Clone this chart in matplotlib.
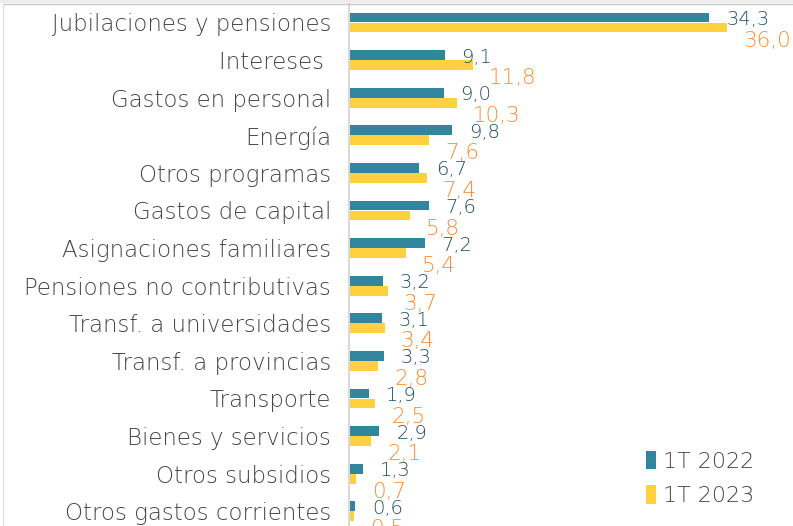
import matplotlib
matplotlib.use("Agg")
import matplotlib.pyplot as plt
from matplotlib.patches import Rectangle
from matplotlib.lines import Line2D
import numpy as np

categories = ["Jubilaciones y pensiones", "Intereses ", "Gastos en personal", "Energía",
              "Otros programas", "Gastos de capital", "Asignaciones familiares",
              "Pensiones no contributivas", "Transf. a universidades", "Transf. a provincias",
              "Transporte", "Bienes y servicios", "Otros subsidios", "Otros gastos corrientes"]
s2022 = [34.3, 9.1, 9.0, 9.8, 6.7, 7.6, 7.2, 3.2, 3.1, 3.3, 1.9, 2.9, 1.3, 0.6]
s2023 = [36.0, 11.8, 10.3, 7.6, 7.4, 5.8, 5.4, 3.7, 3.4, 2.8, 2.5, 2.1, 0.7, 0.5]
series_names = ["1T 2022", "1T 2023"]

c22 = "#31859C"
c23 = "#FFD13F"
lab22 = "#24505F"
lab23 = "#F58F3F"
txt = "#454545"

W, H = 793, 526
fig = plt.figure(figsize=(W / 100, H / 100), dpi=100)
fig.patch.set_facecolor("white")

# frame remnants of the original screenshot
fig.add_artist(Rectangle((0, 1 - 3 / H), 1, 3 / H, transform=fig.transFigure,
                         facecolor="#EDEDED", edgecolor="none"))
fig.add_artist(Line2D([3 / W, 1], [1 - 3.5 / H, 1 - 3.5 / H], transform=fig.transFigure,
                      color="#C8C8C8", lw=1))
fig.add_artist(Line2D([2.5 / W, 2.5 / W], [0, 1 - 3.5 / H], transform=fig.transFigure,
                      color="#E0E0E0", lw=1))

ax = fig.add_axes([349 / W, 0, (W - 349) / W, 523 / H])
n = len(categories)
y = np.arange(n)
bh = 0.26
ax.barh(y - 0.135, s2022, height=bh, color=c22, label=series_names[0])
ax.barh(y + 0.135, s2023, height=bh, color=c23, label=series_names[1])

ax.set_xlim(0, (W - 349) / 10.5)
ax.set_ylim((526 - 22.5) / 37.6, (3 - 22.5) / 37.6)

for i in range(n):
    ax.annotate(f"{s2022[i]:.1f}".replace(".", ","), (s2022[i], y[i] - 0.135),
                xytext=(17, -2), textcoords="offset pixels", ha="left", va="center",
                fontsize=14, color=lab22, fontweight="light")
    ax.annotate(f"{s2023[i]:.1f}".replace(".", ","), (s2023[i], y[i] + 0.135),
                xytext=(16, -13), textcoords="offset pixels", ha="left", va="center",
                fontsize=15.5, color=lab23, fontweight="light")

ax.set_yticks(y)
ax.set_yticklabels(categories, fontsize=16.5, color=txt, fontweight="light")
ax.tick_params(axis="y", length=0, pad=13)
ax.set_xticks([])
for s in ["top", "right", "bottom"]:
    ax.spines[s].set_visible(False)
ax.spines["left"].set_color("#D9D9D9")
ax.spines["left"].set_linewidth(1.5)

leg = ax.legend(loc="lower left", bbox_to_anchor=((626 - 349) / (W - 349), 0.0),
                frameon=False, fontsize=16, handlelength=0.45, handleheight=0.9,
                handletextpad=0.3, labelspacing=0.6)
for t in leg.get_texts():
    t.set_color(txt)
    t.set_fontweight("light")

fig.savefig("out.png", dpi=100, facecolor="white")
